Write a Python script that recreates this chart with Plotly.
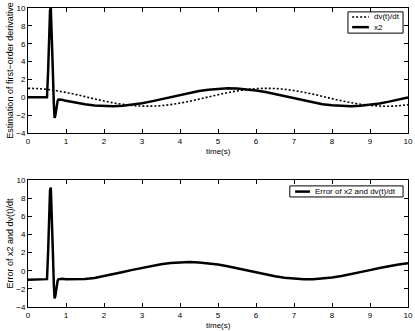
import plotly.graph_objects as go

# dv(t)/dt samples (dotted)
t_dv = [0, 0.25, 0.5, 0.75, 1.0, 1.25, 1.5, 1.75, 2.0, 2.25, 2.5, 2.75, 3.0, 3.25,
        3.5, 3.75, 4.0, 4.25, 4.5, 4.75, 5.0, 5.25, 5.5, 5.75, 6.0, 6.25, 6.5, 6.75,
        7.0, 7.25, 7.5, 7.75, 8.0, 8.25, 8.5, 8.75, 9.0, 9.25, 9.5, 9.75, 10.0]
dv_dt = [1.00, 0.97, 0.88, 0.73, 0.54, 0.32, 0.07, -0.18, -0.42, -0.63, -0.80, -0.92,
         -0.99, -0.99, -0.94, -0.82, -0.65, -0.45, -0.21, 0.04, 0.28, 0.51, 0.71, 0.86,
         0.96, 1.00, 0.98, 0.89, 0.75, 0.56, 0.35, 0.10, -0.15, -0.39, -0.60, -0.78,
         -0.91, -0.98, -1.00, -0.95, -0.84]

# x2 and error samples (denser around the spike near t = 0.6)
t_x2 = [0, 0.25, 0.5, 0.53, 0.56, 0.58, 0.6, 0.62, 0.65, 0.68, 0.7, 0.72, 0.75, 0.78,
        0.8, 0.9, 1.0, 1.25, 1.5, 1.75, 2.0, 2.25, 2.5, 2.75, 3.0, 3.25, 3.5, 3.75,
        4.0, 4.25, 4.5, 4.75, 5.0, 5.25, 5.5, 5.75, 6.0, 6.25, 6.5, 6.75, 7.0, 7.25,
        7.5, 7.75, 8.0, 8.25, 8.5, 8.75, 9.0, 9.25, 9.5, 9.75, 10.0]
x2 = [0, 0, 0, 3.0, 7.5, 9.7, 10.0, 8.0, 3.5, -0.8, -2.3, -2.0, -1.0, -0.4,
      -0.25, -0.28, -0.40, -0.61, -0.79, -0.92, -0.99, -1.00, -0.94, -0.83, -0.67,
      -0.46, -0.23, 0.02, 0.27, 0.50, 0.70, 0.85, 0.96, 1.00, 0.98, 0.90, 0.76, 0.58,
      0.36, 0.12, -0.13, -0.37, -0.59, -0.77, -0.90, -0.98, -1.00, -0.95, -0.85,
      -0.69, -0.49, -0.26, -0.01]
err = [-1.00, -0.98, -0.93, 2.14, 6.65, 8.86, 9.17, 7.19, 2.70, -1.58, -3.06, -2.75,
       -1.73, -1.11, -0.95, -0.90, -0.94, -0.96, -0.92, -0.80, -0.60, -0.38, -0.14,
       0.09, 0.32, 0.53, 0.71, 0.84, 0.92, 0.95, 0.91, 0.81, 0.68, 0.49, 0.27, 0.04,
       -0.20, -0.42, -0.62, -0.77, -0.88, -0.93, -0.94, -0.87, -0.75, -0.59, -0.40,
       -0.17, 0.06, 0.29, 0.51, 0.69, 0.83]

x_ticks = list(range(0, 11))
y_ticks = list(range(-4, 11, 2))

FONT = "Liberation Sans, Arial, sans-serif"
DOTS = "2px,2px"

fig = go.Figure()
fig.add_trace(go.Scatter(x=t_dv, y=dv_dt, mode='lines', name='dv(t)/dt',
                         line=dict(color='black', width=1.6, dash=DOTS, shape='spline'),
                         xaxis='x', yaxis='y', showlegend=False))
fig.add_trace(go.Scatter(x=t_x2, y=x2, mode='lines', name='x2',
                         line=dict(color='black', width=2.5),
                         xaxis='x', yaxis='y', showlegend=False))
fig.add_trace(go.Scatter(x=t_x2, y=err, mode='lines', name='Error of x2 and dv(t)/dt',
                         line=dict(color='black', width=2.5),
                         xaxis='x2', yaxis='y2', showlegend=False))

axis_common = dict(showgrid=False, zeroline=False, showline=True, linecolor='black',
                   linewidth=1, mirror='ticks', ticks='inside', ticklen=4,
                   tickcolor='black', tickfont=dict(size=8, color='black'),
                   automargin=False)

fig.update_layout(
    width=415, height=331,
    margin=dict(l=28, r=7, t=8, b=24),
    paper_bgcolor='white', plot_bgcolor='white',
    font=dict(family=FONT, size=8, color='black'),
    showlegend=False,
    xaxis=dict(domain=[0, 1], range=[0, 10], tickvals=x_ticks, anchor='y', **axis_common),
    yaxis=dict(domain=[0.582, 1.0], range=[-4, 10], tickvals=y_ticks, anchor='x',
               title=dict(text='Estimation of first\u2212order derivative', standoff=1,
                          font=dict(size=9)), **axis_common),
    xaxis2=dict(domain=[0, 1], range=[0, 10], tickvals=x_ticks, anchor='y2', **axis_common),
    yaxis2=dict(domain=[0, 0.425], range=[-4, 10], tickvals=y_ticks, anchor='x2',
                title=dict(text='Error of x2 and dv(t)/dt', standoff=1, font=dict(size=9)),
                **axis_common),
)

# x-axis titles
for ypos in (0.582, 0.0):
    fig.add_annotation(text='time(s)', xref='paper', yref='paper', x=0.5, y=ypos,
                       yshift=-12, yanchor='top', showarrow=False, font=dict(size=8))

# legend boxes drawn in MATLAB style
def legend_box(x0, x1, y0, y1):
    fig.add_shape(type='rect', xref='paper', yref='paper', x0=x0, x1=x1, y0=y0, y1=y1,
                  line=dict(color='black', width=1), fillcolor='white', layer='above')

def legend_entry(lx0, lx1, ly, label, dash, width):
    fig.add_shape(type='line', xref='paper', yref='paper', x0=lx0, x1=lx1, y0=ly, y1=ly,
                  line=dict(color='black', width=width, dash=dash), layer='above')
    fig.add_annotation(text=label, xref='paper', yref='paper', x=lx1 + 0.008, y=ly,
                       xanchor='left', yanchor='middle', showarrow=False,
                       font=dict(size=8))

legend_box(0.842, 0.987, 0.916, 0.987)
legend_entry(0.853, 0.897, 0.970, 'dv(t)/dt', DOTS, 1.6)
legend_entry(0.853, 0.897, 0.936, 'x2', 'solid', 2.5)

legend_box(0.689, 0.987, 0.368, 0.405)
legend_entry(0.703, 0.742, 0.386, 'Error of x2 and dv(t)/dt', 'solid', 2.5)

# drop the browser's default page margin so the figure sits at the window origin
fig.write_html("out.html", config={'displayModeBar': False},
               post_script="document.body.style.margin='0';")
